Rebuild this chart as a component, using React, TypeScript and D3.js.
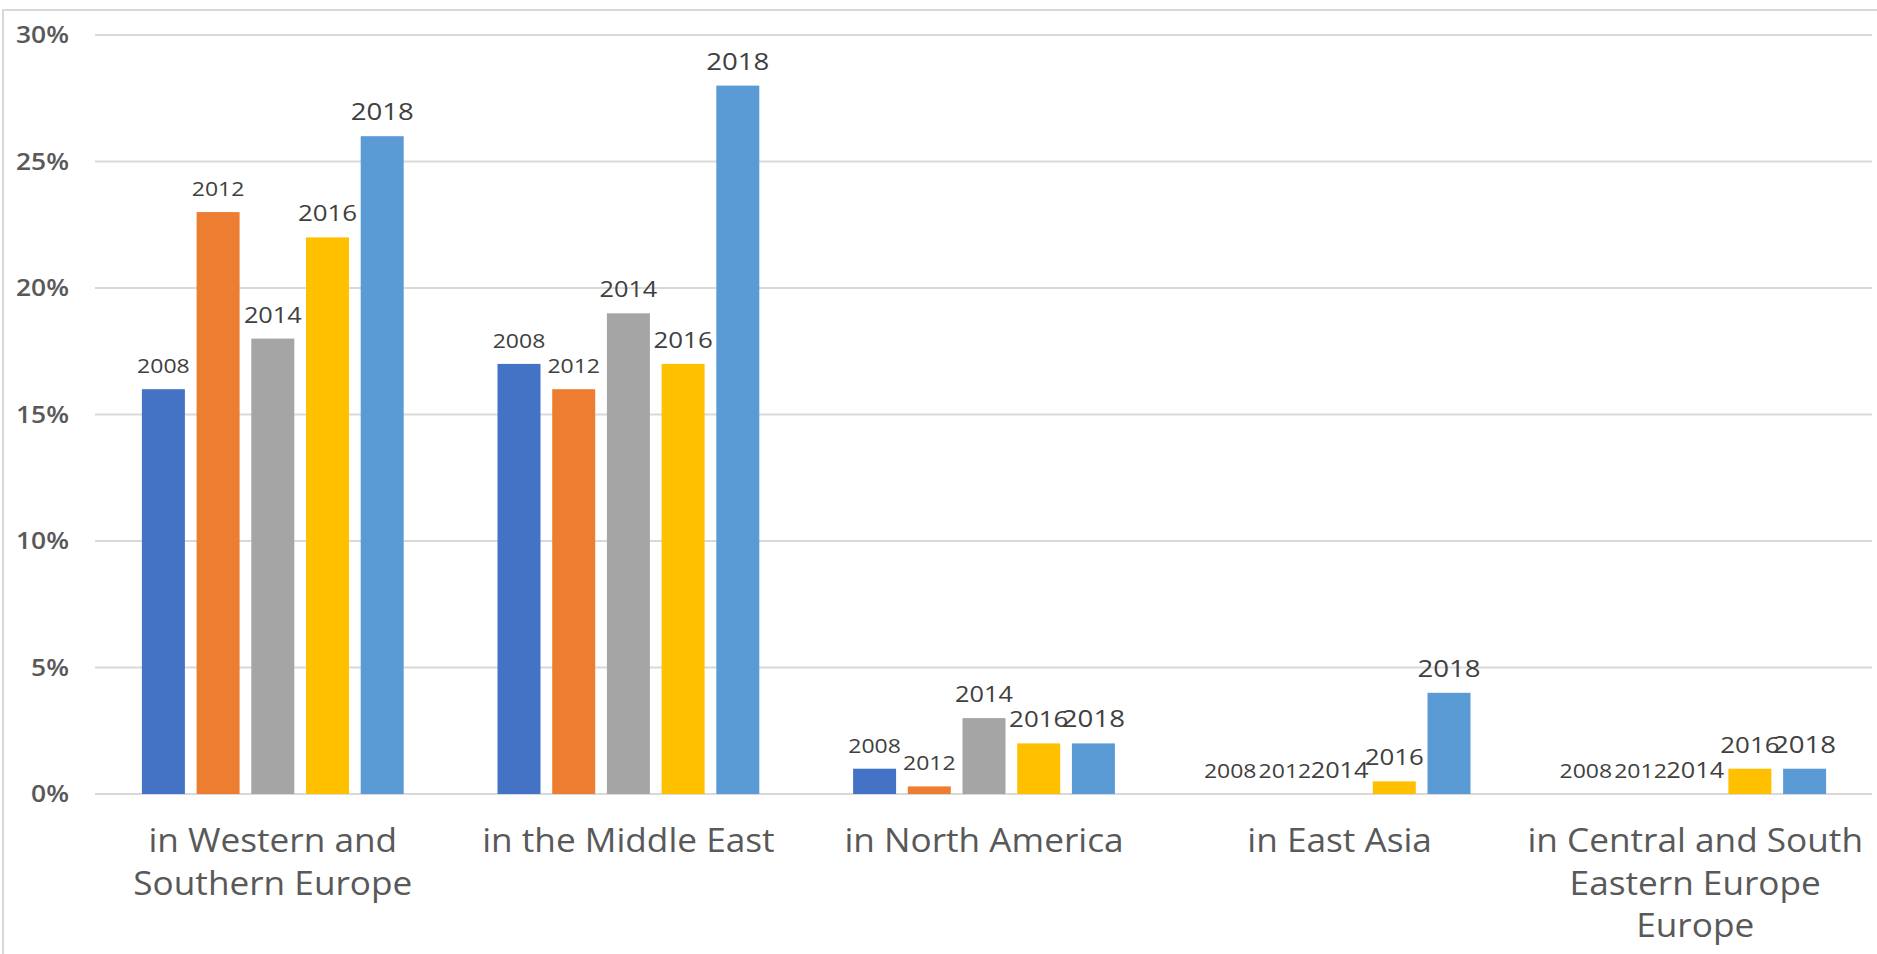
import React from "react";
import * as d3 from "d3";

const categories: string[][] = [
  ["in Western and", "Southern Europe"],
  ["in the Middle East"],
  ["in North America"],
  ["in East Asia"],
  ["in Central and South", "Eastern Europe", "Europe"],
];
const categoryKeys = ["wse", "me", "na", "ea", "cse"];
const years = ["2008", "2012", "2014", "2016", "2018"];
const v2008 = [16, 17, 1, 0, 0];
const v2012 = [23, 16, 0.3, 0, 0];
const v2014 = [18, 19, 3, 0, 0];
const v2016 = [22, 17, 2, 0.5, 1];
const v2018 = [26, 28, 2, 4, 1];
const seriesValues = [v2008, v2012, v2014, v2016, v2018];
const yTicks = [0, 5, 10, 15, 20, 25, 30];

const colors = ["#4472C4", "#ED7D31", "#A5A5A5", "#FFC000", "#5B9BD5"];
const labelSizes = [20, 20, 22, 22.5, 24];

const W = 1877;
const H = 954;

export default function App() {
  const x = d3.scaleBand<string>().domain(categoryKeys).range([95, 1873]).paddingInner(0).paddingOuter(0);
  const step = x.bandwidth();
  const groupSpan = 261.8;
  const inner = d3
    .scaleBand<string>()
    .domain(years)
    .range([(step - groupSpan) / 2, (step + groupSpan) / 2])
    .paddingInner(0.214)
    .paddingOuter(0);
  const y = d3.scaleLinear().domain([0, 30]).range([794, 35]);
  const font = "'Open Sans', 'Noto Sans', sans-serif";

  return (
    <svg
      width={W}
      height={H}
      style={{ position: "absolute", left: 0, top: 0, background: "#fff" }}
      fontFamily={font}
    >
      <rect x={3} y={10} width={W + 20} height={H + 20} fill="#fff" stroke="#d9d9d9" strokeWidth={2} />
      {yTicks.map((t) => (
        <g key={t}>
          <line x1={95} x2={1872} y1={y(t)} y2={y(t)} stroke="#d9d9d9" strokeWidth={2} />
          <g transform={`translate(69,${y(t)}) scale(1.1,1)`}>
            <text dy="0.35em" textAnchor="end" fontSize={24} fontWeight={600} fill="#595959">
              {t}%
            </text>
          </g>
        </g>
      ))}
      {categoryKeys.map((c, ci) => (
        <g key={c} transform={`translate(${x(c)},0)`}>
          {years.map((yr, si) => {
            const v = seriesValues[si][ci];
            const bx = inner(yr) as number;
            const bw = inner.bandwidth();
            return (
              <g key={yr}>
                {v > 0 && (
                  <rect x={bx} y={y(v)} width={bw} height={y(0) - y(v)} fill={colors[si]} />
                )}
                <g transform={`translate(${bx + bw / 2},${y(v) - 16}) scale(1.15,1)`}>
                  <text textAnchor="middle" fontSize={labelSizes[si]} fill="#404040">
                    {yr}
                  </text>
                </g>
              </g>
            );
          })}
          {categories[ci].map((line, li) => (
            <g key={li} transform={`translate(${step / 2},${852 + li * 42.5}) scale(1.1,1)`}>
              <text textAnchor="middle" fontSize={32} fill="#595959">
                {line}
              </text>
            </g>
          ))}
        </g>
      ))}
    </svg>
  );
}
